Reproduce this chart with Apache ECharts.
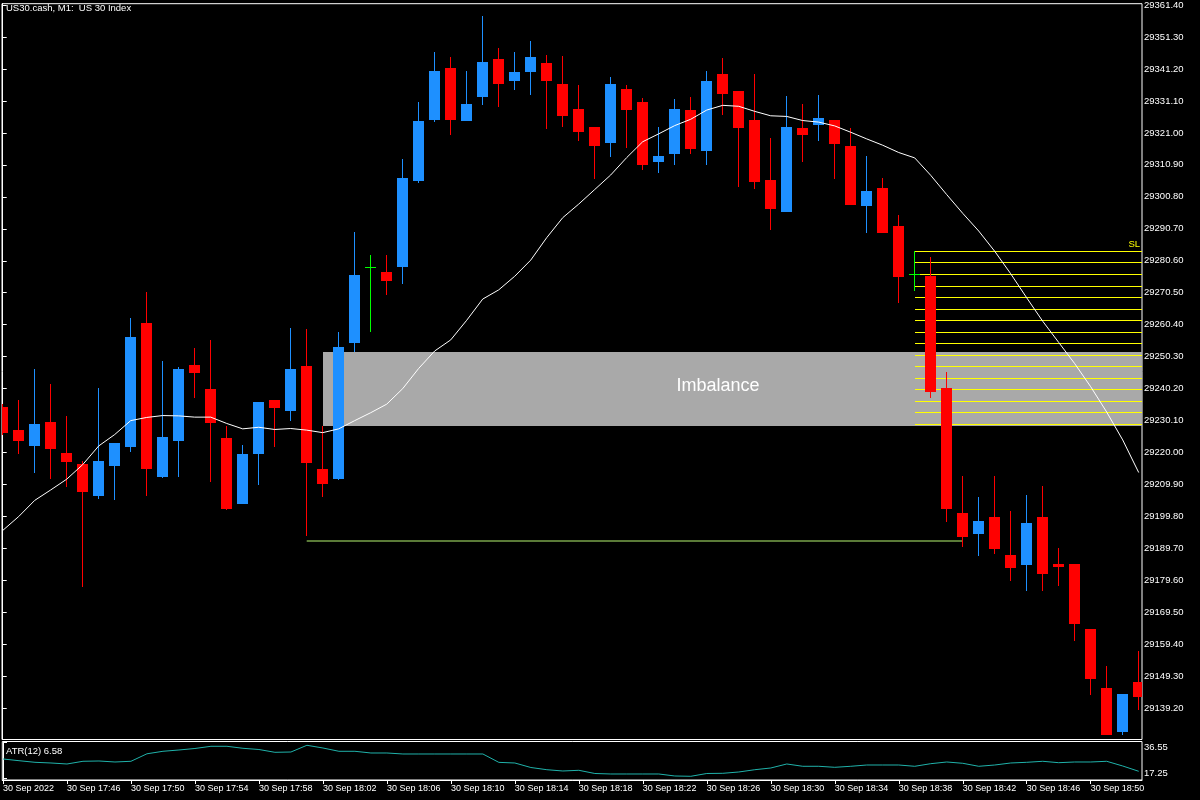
<!DOCTYPE html>
<html>
<head>
<meta charset="utf-8">
<script src="https://cdn.jsdelivr.net/npm/echarts@6/dist/echarts.min.js"></script>
<style>
html,body{margin:0;padding:0;background:#000;}
#chart{width:1200px;height:800px;}
</style>
</head>
<body>
<div id="chart"></div>
<script>
// ---- data (one candle per minute, 17:42 .. 18:53) ----
const openPrices = [
29234.5,29227.2,29222.2,29229.8,29220.0,29216.5,29206.4,29215.9,29221.9,29261.0,
29212.4,29223.8,29247.7,29240.1,29224.7,29203.9,29219.7,29236.7,29233.2,29247.4,
29214.9,29211.8,29254.6,29278.5,29277.0,29278.6,29305.7,29325.2,29341.6,29324.6,
29332.2,29344.2,29337.5,29340.1,29343.2,29336.6,29328.4,29323.0,29317.7,29335.0,
29330.6,29311.7,29314.2,29328.1,29315.2,29339.7,29334.1,29325.2,29306.0,29295.9,
29322.7,29323.4,29325.2,29316.7,29297.8,29303.5,29291.5,29276.5,29275.8,29240.5,
29200.8,29194.4,29199.5,29187.5,29184.4,29199.5,29184.7,29184.7,29164.2,29145.6,
29131.7,29147.5];
const closePrices = [
29226.3,29223.8,29229.1,29221.2,29217.1,29207.4,29217.5,29223.1,29256.5,29214.9,
29225.0,29246.5,29245.2,29229.4,29202.3,29219.7,29236.1,29234.2,29246.5,29216.8,
29210.2,29253.4,29276.1,29278.5,29274.2,29306.7,29324.9,29340.4,29325.2,29330.0,
29343.5,29336.6,29340.1,29345.1,29337.5,29326.2,29321.2,29317.0,29336.6,29328.1,
29310.7,29313.6,29328.7,29315.8,29337.5,29333.4,29322.7,29305.4,29296.9,29323.0,
29320.2,29325.6,29317.4,29298.1,29302.6,29289.3,29275.5,29276.5,29239.2,29202.3,
29193.2,29198.5,29189.4,29183.4,29197.6,29181.8,29183.7,29165.8,29148.4,29130.8,
29143.7,29142.8];
const highPrices = [
29235.4,29236.7,29246.5,29241.7,29231.6,29217.5,29240.5,29223.1,29262.5,29270.7,
29249.0,29247.1,29253.1,29255.6,29228.5,29222.5,29236.1,29236.7,29259.4,29259.1,
29228.5,29258.1,29289.6,29282.4,29282.4,29312.6,29330.9,29346.4,29345.1,29340.4,
29358.0,29347.9,29346.4,29350.1,29345.7,29345.4,29336.0,29323.0,29338.5,29336.0,
29331.9,29323.0,29331.6,29332.2,29340.7,29344.5,29334.1,29339.7,29319.3,29332.5,
29330.0,29333.1,29325.2,29322.7,29313.6,29306.7,29295.0,29283.6,29281.8,29245.5,
29212.7,29206.1,29212.7,29201.7,29206.7,29209.6,29189.7,29184.7,29164.2,29152.5,
29143.7,29157.3];
const lowPrices = [
29225.6,29219.7,29213.7,29211.8,29209.0,29177.4,29205.2,29204.9,29220.3,29206.4,
29212.0,29212.4,29237.3,29210.8,29202.0,29203.9,29209.9,29221.9,29230.1,29193.8,
29206.1,29211.2,29251.8,29258.1,29269.8,29273.2,29305.1,29324.3,29320.2,29324.6,
29329.7,29329.3,29334.7,29333.1,29322.1,29323.0,29318.3,29306.3,29313.3,29316.1,
29309.2,29308.2,29310.7,29314.2,29310.7,29326.8,29303.8,29303.2,29290.3,29295.9,
29311.7,29318.3,29306.3,29298.1,29289.3,29289.3,29267.3,29271.0,29237.3,29198.2,
29190.3,29187.2,29188.1,29179.3,29176.2,29176.2,29177.7,29160.4,29143.4,29130.8,
29130.8,29138.7];
const maValues = [
29195.4,29199.8,29204.9,29208.2,29211.6,29216.2,29222.1,29225.7,29230.1,29231.1,
29231.7,29231.6,29231.2,29231.2,29229.2,29227.5,29228.0,29227.3,29227.6,29227.1,
29226.3,29227.5,29230.1,29232.6,29235.3,29240.2,29246.6,29252.1,29255.6,29261.8,
29268.5,29271.4,29275.7,29280.8,29287.9,29294.2,29298.5,29303.1,29307.7,29313.2,
29318.2,29320.7,29323.3,29325.3,29328.2,29329.7,29329.4,29327.8,29326.4,29326.2,
29324.9,29324.4,29323.2,29321.2,29319.1,29317.1,29314.8,29313.1,29307.6,29301.5,
29295.6,29290.0,29283.6,29276.5,29268.9,29261.5,29254.8,29248.1,29240.8,29232.8,
29224.0,29213.7];
const atrValues = [
27.81,26.90,26.04,25.67,25.13,26.58,26.74,26.20,26.58,30.60,
31.94,32.64,33.44,34.62,34.62,33.55,32.90,31.40,31.56,35.16,
33.71,31.94,31.94,31.03,31.03,30.49,30.49,30.49,30.49,30.49,
30.49,26.00,25.67,23.25,22.07,21.38,21.75,20.04,19.77,19.77,
19.77,19.77,18.70,18.54,20.04,20.14,20.84,22.07,22.99,25.13,
23.90,23.90,23.36,23.90,24.59,24.59,24.59,23.90,25.29,26.20,
25.51,23.90,24.59,25.67,26.04,26.58,25.83,26.20,26.20,26.58,
24.06,21.22];

const timeTickIndex = [0,4,8,12,16,20,24,28,32,36,40,44,48,52,56,60,64,68];
const timeTickLabels = ["30 Sep 2022","30 Sep 17:46","30 Sep 17:50","30 Sep 17:54","30 Sep 17:58",
  "30 Sep 18:02","30 Sep 18:06","30 Sep 18:10","30 Sep 18:14","30 Sep 18:18","30 Sep 18:22",
  "30 Sep 18:26","30 Sep 18:30","30 Sep 18:34","30 Sep 18:38","30 Sep 18:42","30 Sep 18:46","30 Sep 18:50"];
const priceTickLabels = ["29361.40","29351.30","29341.20","29331.10","29321.00","29310.90","29300.80",
  "29290.70","29280.60","29270.50","29260.40","29250.30","29240.20","29230.10","29220.00","29209.90",
  "29199.80","29189.70","29179.60","29169.50","29159.40","29149.30","29139.20"];
const atrTickLabels = ["36.55","17.25"];

const imbalanceStart = [20];
const imbalanceTop = [29251.8];
const imbalanceBottom = [29228.5];
const imbalanceText = ["Imbalance"];

const levelStart = [57];
const levelPrices = [29283.6,29280.1,29276.3,29272.5,29269.1,29265.3,29261.8,29258.0,
  29254.6,29250.8,29247.3,29243.5,29240.1,29236.3,29232.8,29229.0];
const levelText = ["SL"];

const supportPrice = [29192.2];
const supportFrom = [19];
const supportTo = [60];

// ---- layout / style ----
const X_MIN = -0.044, X_MAX = 71.206;
const FONT = "'Liberation Sans', Arial, sans-serif";
const BULL = '#1E90FF', BEAR = '#FF0000', DOJI = '#00FF00';

const candleData = openPrices.map((o, i) => [i, o, closePrices[i], lowPrices[i], highPrices[i]]);
const atrTickValues = atrTickLabels.map(Number);

function renderCandle(params, api) {
  const i = api.value(0), o = api.value(1), c = api.value(2), l = api.value(3), h = api.value(4);
  const pO = api.coord([i, o]), pC = api.coord([i, c]);
  const pL = api.coord([i, l]), pH = api.coord([i, h]);
  const cx = Math.round(pO[0] - 0.5) + 0.5;
  const color = o === c ? DOJI : (c > o ? BULL : BEAR);
  const yTop = Math.round(Math.min(pO[1], pC[1]));
  const yBot = Math.round(Math.max(pO[1], pC[1]));
  const children = [{ type: 'line', shape: { x1: cx, y1: Math.round(pH[1]), x2: cx, y2: Math.round(pL[1]) },
    style: { stroke: color, lineWidth: 1 } }];
  if (o === c) {
    children.push({ type: 'line', shape: { x1: cx - 5.5, y1: yTop + 0.5, x2: cx + 5.5, y2: yTop + 0.5 },
      style: { stroke: color, lineWidth: 1 } });
  } else {
    children.push({ type: 'rect', shape: { x: cx - 5.5, y: yTop, width: 11, height: Math.max(1, yBot - yTop) },
      style: { fill: color } });
  }
  return { type: 'group', children };
}

const option = {
  backgroundColor: '#000',
  animation: false,
  textStyle: { fontFamily: FONT },
  title: [
    { text: 'US30.cash, M1:  US 30 Index', left: 6, top: 3, padding: 0,
      textStyle: { color: '#fff', fontSize: 9.5, fontWeight: 'normal', fontFamily: FONT } },
    { text: 'ATR(12) 6.58', left: 6, top: 746, padding: 0,
      textStyle: { color: '#fff', fontSize: 9.5, fontWeight: 'normal', fontFamily: FONT } }
  ],
  grid: [
    { left: 2, right: 58, top: 2, height: 737.5, show: true, borderColor: '#fff', borderWidth: 1, backgroundColor: 'transparent' },
    { left: 2, right: 58, top: 741.5, height: 38.5, show: true, borderColor: '#fff', borderWidth: 1, backgroundColor: 'transparent' }
  ],
  xAxis: [
    { type: 'value', gridIndex: 0, min: X_MIN, max: X_MAX, show: false },
    { type: 'value', gridIndex: 1, min: X_MIN, max: X_MAX,
      axisLine: { show: true, lineStyle: { color: '#fff', width: 1 } },
      axisTick: { show: true, customValues: timeTickIndex, length: 4, lineStyle: { color: '#fff' } },
      axisLabel: { show: true, customValues: timeTickIndex, color: '#fff', fontSize: 9, align: 'left', margin: 4,
        formatter: v => timeTickLabels[timeTickIndex.indexOf(Math.round(v))] },
      splitLine: { show: false } }
  ],
  yAxis: [
    { type: 'value', gridIndex: 0, position: 'right', min: 29129.36, max: 29361.81,
      axisLine: { show: true, lineStyle: { color: '#fff' } },
      axisTick: { show: true, customValues: priceTickLabels.map(Number), length: 4, lineStyle: { color: '#fff' } },
      axisLabel: { show: true, customValues: priceTickLabels.map(Number), color: '#fff', fontSize: 9.5, margin: 2,
        formatter: v => v.toFixed(2) },
      splitLine: { show: false } },
    { type: 'value', gridIndex: 1, position: 'right', min: 16.55, max: 37.19,
      axisLine: { show: true, lineStyle: { color: '#fff' } },
      axisTick: { show: true, customValues: atrTickValues, length: 4, lineStyle: { color: '#fff' } },
      axisLabel: { show: true, customValues: [34.08, 20.30], color: '#fff', fontSize: 9.5, margin: 2,
        formatter: v => (v > 27 ? atrTickLabels[0] : atrTickLabels[1]) },
      splitLine: { show: false } }
  ],
  series: [
    { // imbalance zone
      type: 'custom', xAxisIndex: 0, yAxisIndex: 0, z: 1, silent: true, clip: true,
      data: imbalanceStart.map((s, k) => [s, imbalanceTop[k], imbalanceBottom[k]]),
      renderItem: (params, api) => {
        const a = api.coord([api.value(0), api.value(1)]);
        const b = api.coord([X_MAX, api.value(2)]);
        const mid = api.coord([44.7, (api.value(1) + api.value(2)) / 2]);
        return { type: 'group', children: [
          { type: 'rect', shape: { x: Math.round(a[0]), y: Math.round(a[1]), width: b[0] - Math.round(a[0]), height: Math.round(b[1]) - Math.round(a[1]) },
            style: { fill: '#A9A9A9' } },
          { type: 'text', style: { text: imbalanceText[params.dataIndex], x: mid[0], y: mid[1] - 3,
            align: 'center', verticalAlign: 'middle', fill: '#FFFFFF', font: '18px ' + FONT } }
        ] };
      }
    },
    { // support line
      type: 'custom', xAxisIndex: 0, yAxisIndex: 0, z: 2, silent: true, clip: true,
      data: supportPrice.map((p, k) => [supportFrom[k], p, supportTo[k]]),
      renderItem: (params, api) => {
        const a = api.coord([api.value(0), api.value(1)]);
        const b = api.coord([api.value(2), api.value(1)]);
        const y = Math.round(a[1]);
        return { type: 'line', shape: { x1: a[0], y1: y, x2: b[0], y2: y },
          style: { stroke: '#5B7B38', lineWidth: 2 } };
      }
    },
    { // yellow levels
      type: 'custom', xAxisIndex: 0, yAxisIndex: 0, z: 2, silent: true, clip: true,
      data: levelPrices.map((p, k) => [levelStart[0], p, k]),
      renderItem: (params, api) => {
        const a = api.coord([api.value(0), api.value(1)]);
        const b = api.coord([X_MAX, api.value(1)]);
        const y = Math.round(a[1]) + 0.5;
        const children = [{ type: 'line', shape: { x1: Math.round(a[0]), y1: y, x2: b[0], y2: y },
          style: { stroke: '#FFFF00', lineWidth: 1 } }];
        if (api.value(2) === 0) {
          children.push({ type: 'text', style: { text: levelText[0], x: b[0] - 2, y: y - 2,
            align: 'right', verticalAlign: 'bottom', fill: '#FFFF00', font: '9.5px ' + FONT } });
        }
        return { type: 'group', children };
      }
    },
    { // candles
      type: 'custom', xAxisIndex: 0, yAxisIndex: 0, z: 3, silent: true, clip: true,
      data: candleData,
      encode: { x: 0, y: [1, 2, 3, 4] },
      renderItem: renderCandle
    },
    {
      type: 'line', xAxisIndex: 0, yAxisIndex: 0, z: 4, silent: true,
      data: maValues.map((v, i) => [i, v]),
      showSymbol: false, symbol: 'none',
      lineStyle: { color: '#FFFFFF', width: 1 }
    },
    {
      type: 'line', xAxisIndex: 1, yAxisIndex: 1, z: 4, silent: true,
      data: atrValues.map((v, i) => [i, v]),
      showSymbol: false, symbol: 'none',
      lineStyle: { color: '#20B2AA', width: 1 }
    }
  ]
};

const chart = echarts.init(document.getElementById('chart'));
chart.setOption(option);
</script>
</body>
</html>
